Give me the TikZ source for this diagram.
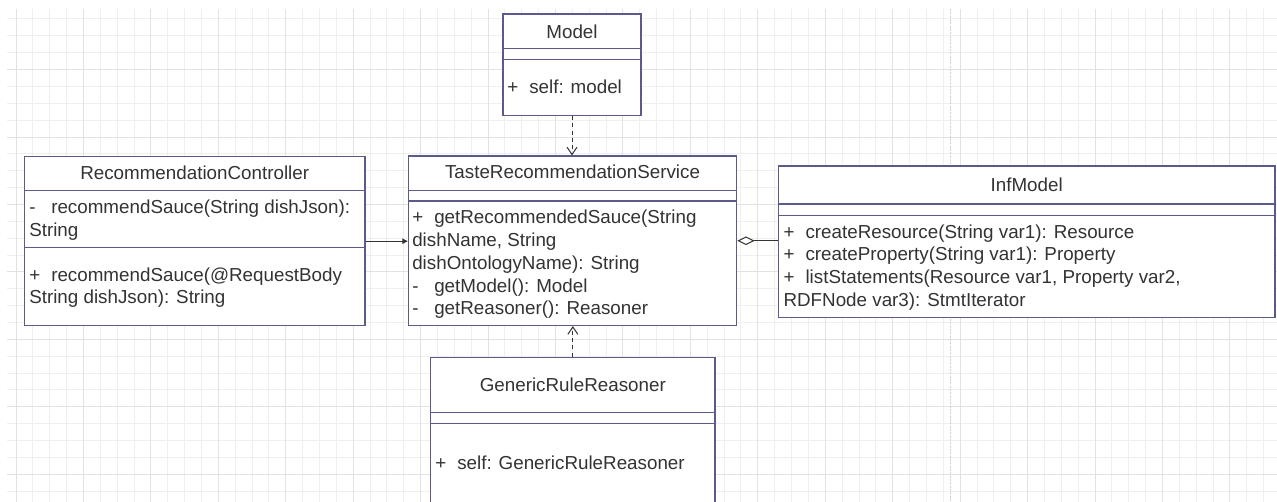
\documentclass[tikz,border=0pt]{standalone}
\usepackage{fontspec}
\setmainfont{Liberation Sans}
\usetikzlibrary{fit,arrows.meta}
\definecolor{boxc}{HTML}{5A5A8C}
\definecolor{txtc}{HTML}{333333}
\definecolor{linec}{HTML}{333333}
\definecolor{gridmin}{HTML}{EFEFEF}
\definecolor{gridmaj}{HTML}{E2E2E2}
\definecolor{pagec}{HTML}{D0D0D0}
\newcommand\vismark[1]{\makebox[16.5pt][l]{#1}}
\begin{document}
\begin{tikzpicture}[x=0.75pt,y=-0.75pt,
  umlbox/.style={draw=boxc,line width=0.9pt,fill=white,inner sep=0pt},
  sepline/.style={draw=boxc,line width=0.9pt},
  lbl/.style={anchor=base west,inner sep=0pt,text=txtc,font=\fontsize{14.1}{17}\selectfont},
  ttl/.style={anchor=base,inner sep=0pt,text=txtc,font=\fontsize{14.1}{17}\selectfont},
  dep/.style={draw=linec,line width=0.75pt,dash pattern=on 3pt off 2.5pt,-{Straight Barb[length=5.5pt,width=7.5pt]}},
  assoc/.style={draw=linec,line width=0.75pt,-{Triangle[length=4pt,width=4pt]}},
  aggr/.style={draw=linec,line width=0.75pt,{Diamond[length=13pt,width=6.5pt,fill=white]}-},
  gridminor/.style={draw=gridmin,line width=0.75pt},
  gridmajor/.style={draw=gridmaj,line width=0.75pt}
]
\useasboundingbox (0,0) rectangle (1277,502);
\clip (0,0) rectangle (1277,502);
\fill[white] (0,0) rectangle (1277,502);
% background grid
\foreach \k in {0,...,75}{\draw[gridminor] ({16+\k*16.86},9) -- ({16+\k*16.86},502);}
\foreach \k in {0,...,28}{\draw[gridminor] (7,{19+\k*16.86}) -- (1277,{19+\k*16.86});}
\foreach \k in {0,4,...,72}{\draw[gridmajor] ({16+\k*16.86},9) -- ({16+\k*16.86},502);}
\foreach \k in {3,7,...,27}{\draw[gridmajor] (7,{19+\k*16.86}) -- (1277,{19+\k*16.86});}
\draw[pagec,line width=0.75pt,dash pattern=on 1.5pt off 1pt] (950,9) -- (950,502);

% Model
\node[umlbox, fit={(503,14) (641,115.5)}] (model) {};
\draw[sepline] (503,48.3) -- (641,48.3);
\draw[sepline] (503,59.3) -- (641,59.3);
\node[ttl] (modelT) at (572,38.2) {Model};
\node[lbl] (modelA) at (507,93.5) {\vismark{+}self: model};

% RecommendationController
\node[umlbox, fit={(24.3,156.7) (365,325.7)}] (rc) {};
\draw[sepline] (24.3,190.7) -- (365,190.7);
\draw[sepline] (24.3,247.3) -- (365,247.3);
\node[ttl] (rcT) at (194.7,179.2) {RecommendationController};
\node[lbl] (rcA1) at (29,213.8) {\vismark{-}recommendSauce(String dishJson):};
\node[lbl] (rcA2) at (29,236.5) {String};
\node[lbl] (rcM1) at (29,281.5) {\vismark{+}recommendSauce(@RequestBody};
\node[lbl] (rcM2) at (29,303.2) {String dishJson): String};

% TasteRecommendationService
\node[umlbox, fit={(408.3,156) (736.7,325.5)}] (trs) {};
\draw[sepline] (408.3,190.7) -- (736.7,190.7);
\draw[sepline] (408.3,201) -- (736.7,201);
\node[ttl] (trsT) at (572.5,178.8) {TasteRecommendationService};
\node[lbl] (trsM1) at (412,223.8) {\vismark{+}getRecommendedSauce(String};
\node[lbl] (trsM2) at (412,246.5) {dishName, String};
\node[lbl] (trsM3) at (412,269.8) {dishOntologyName): String};
\node[lbl] (trsM4) at (412,292.5) {\vismark{-}getModel(): Model};
\node[lbl] (trsM5) at (412,314.8) {\vismark{-}getReasoner(): Reasoner};

% InfModel
\node[umlbox, fit={(778.3,166) (1275,317.3)}] (inf) {};
\draw[sepline] (778.3,204) -- (1275,204);
\draw[sepline] (778.3,215.3) -- (1275,215.3);
\node[ttl] (infT) at (1026.7,191.5) {InfModel};
\node[lbl] (infM1) at (783.3,238.2) {\vismark{+}createResource(String var1): Resource};
\node[lbl] (infM2) at (783.3,260.5) {\vismark{+}createProperty(String var1): Property};
\node[lbl] (infM3) at (783.3,283.2) {\vismark{+}listStatements(Resource var1, Property var2,};
\node[lbl] (infM4) at (783.3,306.5) {RDFNode var3): StmtIterator};

% GenericRuleReasoner
\node[umlbox, fit={(430.7,357.3) (715,530)}] (grr) {};
\draw[sepline] (430.7,412.7) -- (715,412.7);
\draw[sepline] (430.7,423.3) -- (715,423.3);
\node[ttl] (grrT) at (572.8,391.5) {GenericRuleReasoner};
\node[lbl] (grrA) at (435,469.8) {\vismark{+}self: GenericRuleReasoner};

% connectors
\draw[dep] (model.south) -- (model.south |- trs.north);
\draw[dep] (grr.north) -- (grr.north |- trs.south);
\draw[assoc] (rc.east) -- (trs.west |- rc.east);
\draw[aggr] (trs.east) -- (inf.west |- trs.east);
\end{tikzpicture}
\end{document}
